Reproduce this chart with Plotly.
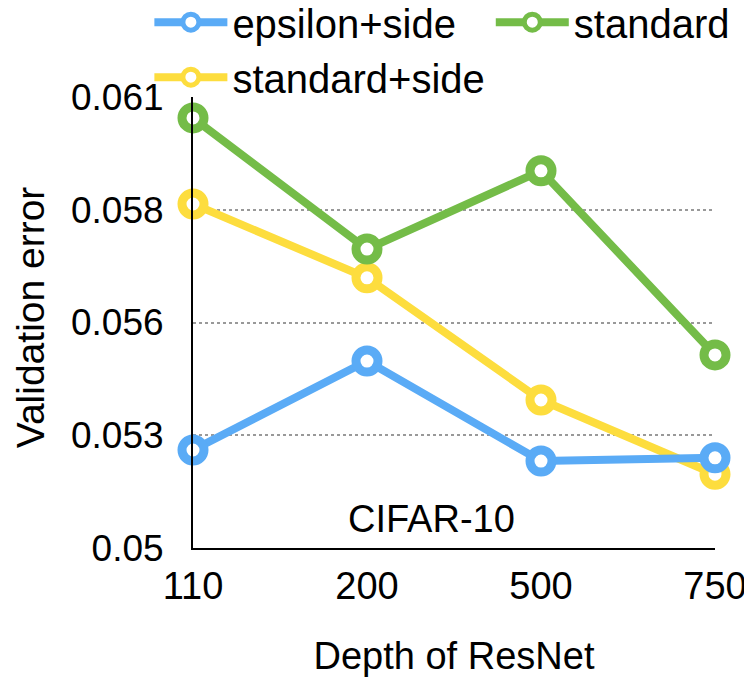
import plotly.graph_objects as go

depths = ["110", "200", "500", "750"]
epsilon_side = [0.05239, 0.05456, 0.05212, 0.05220]
standard_side = [0.05839, 0.05659, 0.05361, 0.05180]
standard = [0.06049, 0.05729, 0.05920, 0.05471]

y_ticks = [0.05, 0.05275, 0.0555, 0.05825, 0.061]
y_labels = ["0.05", "0.053", "0.056", "0.058", "0.061"]

FONT = "Liberation Sans, Arial, Helvetica, sans-serif"

# (name, values, colour, legend, rank)
series = [
    ("standard+side", standard_side, "#FDDD3E", "legend", 2),
    ("epsilon+side", epsilon_side, "#5AABF6", "legend", 1),
    ("standard", standard, "#74BC48", "legend2", 1),
]

fig = go.Figure()
for name, vals, color, leg, rank in series:
    fig.add_trace(go.Scatter(
        x=depths, y=vals, name=name, mode="lines+markers",
        line=dict(color=color, width=8),
        marker=dict(size=22, color="white", line=dict(color=color, width=9)),
        cliponaxis=False, legend=leg, legendrank=rank,
    ))

fig.add_annotation(x=1.37, y=0.0507, text="CIFAR-10", showarrow=False,
                   font=dict(size=38, color="black", family=FONT))
# y title as an annotation (axis title got misplaced with fixed margins)
fig.add_annotation(xref="paper", yref="paper", x=-0.312, y=0.512,
                   text="Validation error", textangle=-90, showarrow=False,
                   xanchor="center", yanchor="middle",
                   font=dict(size=39, color="black", family=FONT))

leg_common = dict(xref="container", yref="paper", y=1.238, xanchor="left",
                  yanchor="top", itemwidth=73, bgcolor="rgba(0,0,0,0)",
                  font=dict(size=40, family=FONT), tracegroupgap=0)

# the page puts the figure 8px in from the top-left corner, so margins are shifted
fig.update_layout(
    width=752, height=684,
    margin=dict(l=185, r=45, t=89, b=144, autoexpand=False),
    plot_bgcolor="white", paper_bgcolor="white",
    font=dict(family=FONT, color="black"),
    showlegend=True,
    legend=dict(x=0.188, **leg_common),
    legend2=dict(x=0.642, **leg_common),
    xaxis=dict(type="category", range=[0, 3], showline=True, linecolor="black",
               linewidth=2, showgrid=False, ticks="outside", ticklen=3,
               tickcolor="rgba(0,0,0,0)", tickfont=dict(size=38),
               title=dict(text="Depth of ResNet", font=dict(size=38), standoff=37)),
    yaxis=dict(range=[0.05, 0.061], tickvals=y_ticks, ticktext=y_labels,
               showline=True, linecolor="black", linewidth=2, showgrid=True,
               gridcolor="#999999", griddash="dot", gridwidth=1.5, zeroline=False,
               ticks="outside", ticklen=20, tickcolor="rgba(0,0,0,0)",
               tickfont=dict(size=37)),
)

fig.write_html("out.html")
